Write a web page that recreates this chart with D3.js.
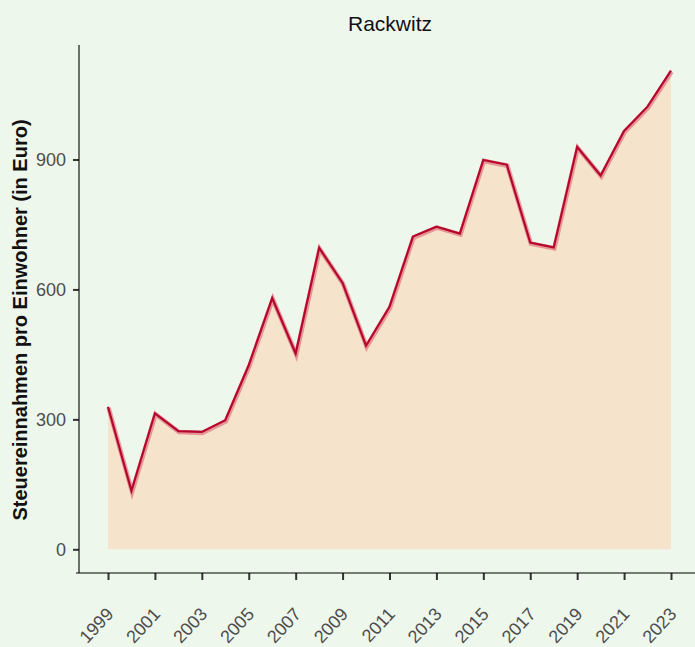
<!DOCTYPE html>
<html>
<head>
<meta charset="utf-8">
<script src="https://cdn.jsdelivr.net/npm/d3@7"></script>
<style>
  body { margin: 0; background: #eef7ec; }
  svg { display: block; font-family: "Liberation Sans", Arial, sans-serif; }
</style>
</head>
<body>
<svg id="chart" width="695" height="647"></svg>
<script>
// Steuereinnahmen pro Einwohner, Rackwitz
const years = [1999, 2000, 2001, 2002, 2003, 2004, 2005, 2006, 2007, 2008, 2009, 2010, 2011,
  2012, 2013, 2014, 2015, 2016, 2017, 2018, 2019, 2020, 2021, 2022, 2023];
const values = [329, 135, 314, 273, 271, 298, 425, 580, 452, 696, 615, 470, 560,
  722, 745, 729, 899, 888, 708, 697, 929, 863, 966, 1022, 1105];
const yTicks = [0, 300, 600, 900];
const xTicks = d3.range(1999, 2024, 2);

const data = years.map((y, i) => ({year: y, value: values[i]}));

var svg = d3.select("#chart");

var x = d3.scaleLinear().domain([1999, 2023]).range([108, 671]);
var y = d3.scaleLinear().domain([0, 900]).range([549.3, 159.5]);

var axisLeft = 79, axisBottom = 573, axisTop = 45;

// area under the line
var area = d3.area()
  .x(d => x(d.year))
  .y0(y(0))
  .y1(d => y(d.value));

svg.append("path")
  .datum(data)
  .attr("d", area)
  .attr("fill", "#f6e3cb");

var line = d3.line()
  .x(d => x(d.year))
  .y(d => y(d.value));

// soft halo + dark line
svg.append("path")
  .datum(data)
  .attr("d", line)
  .attr("transform", "translate(0.6,1)")
  .attr("fill", "none")
  .attr("stroke", "#e0737f")
  .attr("stroke-opacity", 0.7)
  .attr("stroke-width", 4.5);

svg.append("path")
  .datum(data)
  .attr("d", line)
  .attr("fill", "none")
  .attr("stroke", "#b5062c")
  .attr("stroke-width", 2.2);

// y axis
var gy = svg.append("g")
  .attr("transform", "translate(" + axisLeft + ",0)")
  .call(d3.axisLeft(y).tickValues(yTicks).tickSize(6).tickPadding(7).tickSizeOuter(0));
gy.select(".domain").remove();
gy.append("line")
  .attr("x1", 0).attr("x2", 0)
  .attr("y1", axisTop).attr("y2", axisBottom)
  .attr("stroke", "#000").attr("stroke-width", 1.1);
gy.selectAll(".tick line").attr("stroke", "#333").attr("stroke-width", 2);
gy.selectAll(".tick text")
  .attr("fill", "#4d4d4d")
  .style("font-size", "18px")
  .style("font-family", "Liberation Sans, Arial, sans-serif");

// x axis
var gx = svg.append("g")
  .attr("transform", "translate(0," + axisBottom + ")")
  .call(d3.axisBottom(x).tickValues(xTicks).tickFormat(d3.format("d")).tickSize(7).tickSizeOuter(0));
gx.select(".domain").remove();
gx.append("line")
  .attr("x1", axisLeft - 3).attr("x2", 695)
  .attr("y1", 0).attr("y2", 0)
  .attr("stroke", "#000").attr("stroke-width", 1.1);
gx.selectAll(".tick line").attr("stroke", "#333").attr("stroke-width", 2);
gx.selectAll(".tick text")
  .attr("fill", "#4d4d4d")
  .attr("text-anchor", "end")
  .attr("dy", null)
  .attr("y", null)
  .attr("transform", "translate(6,42) rotate(-47)")
  .style("font-size", "18px")
  .style("font-family", "Liberation Sans, Arial, sans-serif");

// title
svg.append("text")
  .attr("x", 390).attr("y", 31)
  .attr("text-anchor", "middle")
  .attr("fill", "#111")
  .style("font-size", "21px")
  .text("Rackwitz");

// y axis label
svg.append("text")
  .attr("transform", "translate(27,320) rotate(-90)")
  .attr("text-anchor", "middle")
  .attr("fill", "#111")
  .style("font-size", "20px")
  .style("font-weight", "bold")
  .text("Steuereinnahmen pro Einwohner (in Euro)");
</script>
</body>
</html>
